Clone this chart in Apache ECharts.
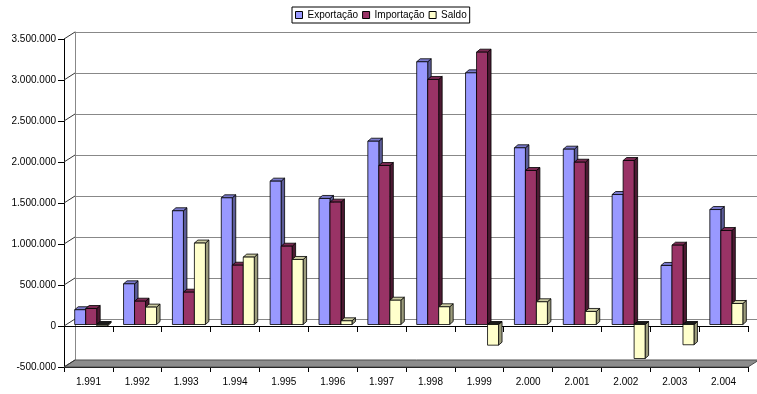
<!DOCTYPE html>
<html>
<head>
<meta charset="utf-8">
<script src="https://cdn.jsdelivr.net/npm/echarts@6/dist/echarts.min.js"></script>
<style>
  html, body { margin: 0; padding: 0; background: #fff; }
  #chart { width: 757px; height: 394px; }
</style>
</head>
<body>
<div id="chart"></div>
<script>
// Balança comercial 1991-2004
const categorias = ['1.991', '1.992', '1.993', '1.994', '1.995', '1.996', '1.997',
                    '1.998', '1.999', '2.000', '2.001', '2.002', '2.003', '2.004'];
const exportacao = [180000, 496000, 1387000, 1545000, 1748000, 1537000, 2235000,
                    3204000, 3069000, 2155000, 2138000, 1585000, 720000, 1402000];
const importacao = [195000, 284000, 394000, 723000, 955000, 1492000, 1939000,
                    2988000, 3321000, 1878000, 1979000, 2000000, 967000, 1146000];
const saldo = [-15000, 212000, 993000, 822000, 793000, 45000, 296000,
               216000, -252000, 277000, 159000, -415000, -247000, 256000];
const ticksY = [-500000, 0, 500000, 1000000, 1500000, 2000000, 2500000, 3000000, 3500000];

const FONT = "'Liberation Sans', Arial, sans-serif";
// pseudo-3D projection: back wall offset and bar depth
const WALL_DX = 11, WALL_DY = -7;
const BAR_DX = 3.5, BAR_DY = -3;
const BAR_SHIFT_Y = -1.5;

function fmt(v) {
  const s = String(Math.abs(v)).replace(/\B(?=(\d{3})+(?!\d))/g, '.');
  return (v < 0 ? '-' : '') + s;
}

function barRenderer(slot, front, side, top) {
  return function (params, api) {
    const idx = api.value(0), v = api.value(1);
    const base = api.coord([idx, 0]);
    const end = api.coord([idx, v]);
    const band = api.size([1, 0])[0];
    const w = band * 0.225;
    const x = base[0] - band / 2 + band * 0.219 + slot * w;
    const y0 = base[1] + BAR_SHIFT_Y, y1 = end[1] + BAR_SHIFT_Y;
    const yT = Math.min(y0, y1), yB = Math.max(y0, y1);
    const line = { stroke: '#000', lineWidth: 0.8, lineJoin: 'round' };
    return {
      type: 'group',
      children: [
        { type: 'polygon', shape: { points: [[x + w, yT], [x + w + BAR_DX, yT + BAR_DY], [x + w + BAR_DX, yB + BAR_DY], [x + w, yB]] },
          style: Object.assign({ fill: side }, line) },
        { type: 'polygon', shape: { points: [[x, yT], [x + BAR_DX, yT + BAR_DY], [x + w + BAR_DX, yT + BAR_DY], [x + w, yT]] },
          style: Object.assign({ fill: v < 0 ? '#1a1a1a' : top }, line) },
        { type: 'rect', shape: { x: x, y: yT, width: w, height: Math.max(yB - yT, 0.5) },
          style: Object.assign({ fill: front }, line) }
      ]
    };
  };
}

// side wall lines from the front value axis back to the wall
function sideWallRender(params, api) {
  const p = api.coord([0, api.value(0)]);
  const band = api.size([1, 0])[0];
  const x0 = p[0] - band / 2;
  return { type: 'line', shape: { x1: x0, y1: p[1], x2: x0 + WALL_DX, y2: p[1] + WALL_DY },
           style: { stroke: '#333', lineWidth: 1 } };
}

// floor at the minimum of the value axis
function floorRender(params, api) {
  const n = categorias.length;
  const band = api.size([1, 0])[0];
  const l = api.coord([0, ticksY[0]]);
  const r = api.coord([n - 1, ticksY[0]]);
  const xl = l[0] - band / 2, xr = r[0] + band / 2, y = l[1];
  return { type: 'polygon',
           shape: { points: [[xl, y], [xr, y], [xr + WALL_DX, y + WALL_DY], [xl + WALL_DX, y + WALL_DY]] },
           style: { fill: '#8c8c8c', stroke: '#4d4d4d', lineWidth: 1 } };
}

const chart = echarts.init(document.getElementById('chart'), null, { renderer: 'canvas' });
chart.setOption({
  animation: false,
  backgroundColor: '#fff',
  textStyle: { fontFamily: FONT },
  legend: {
    data: ['Exportação', 'Importação', 'Saldo'],
    left: 292, top: 7,
    itemWidth: 7, itemHeight: 7, itemGap: 4,
    padding: [3, 3, 3, 3],
    borderColor: '#000', borderWidth: 1,
    icon: 'rect',
    itemStyle: { borderColor: '#000', borderWidth: 1 },
    textStyle: { fontSize: 10, color: '#000', fontFamily: FONT }
  },
  grid: [
    { left: 64, right: 9, top: 39, bottom: 27 },
    { left: 75, right: -2, top: 32, bottom: 34 }
  ],
  xAxis: [
    { type: 'category', gridIndex: 0, data: categorias, position: 'bottom',
      axisLine: { onZero: false, lineStyle: { color: '#000', width: 1 } },
      axisTick: { show: true, length: 5, lineStyle: { color: '#000' } },
      axisLabel: { fontSize: 10, color: '#000', margin: 10, fontFamily: FONT },
      splitLine: { show: false } },
    { type: 'category', gridIndex: 0, data: categorias, position: 'bottom',
      axisLine: { onZero: true, lineStyle: { color: '#000', width: 1 } },
      axisTick: { show: true, length: 6, lineStyle: { color: '#000' } },
      axisLabel: { show: false },
      splitLine: { show: false } },
    { type: 'category', gridIndex: 1, data: categorias, show: false }
  ],
  yAxis: [
    { type: 'value', gridIndex: 0, min: -500000, max: 3500000, interval: 500000,
      axisLine: { show: true, lineStyle: { color: '#000', width: 1 } },
      axisTick: { show: true, length: 6, lineStyle: { color: '#000' } },
      axisLabel: { fontSize: 10, color: '#000', margin: 8, formatter: fmt, fontFamily: FONT },
      splitLine: { show: false } },
    { type: 'value', gridIndex: 1, min: -500000, max: 3500000, interval: 500000,
      axisLine: { show: true, lineStyle: { color: '#888', width: 1 } },
      axisTick: { show: false },
      axisLabel: { show: false },
      splitLine: { show: true, lineStyle: { color: '#888', width: 1 } } }
  ],
  series: [
    { type: 'custom', name: 'floor', xAxisIndex: 0, yAxisIndex: 0, z: 1, silent: true,
      renderItem: floorRender, data: [[0]], legendHoverLink: false },
    { type: 'custom', name: 'wall', xAxisIndex: 0, yAxisIndex: 0, z: 1, silent: true,
      renderItem: sideWallRender, data: ticksY.map(v => [v]), encode: { y: 0 } },
    { type: 'custom', name: 'Exportação', xAxisIndex: 0, yAxisIndex: 0, z: 3,
      itemStyle: { color: '#9999FF' },
      renderItem: barRenderer(0, '#9999FF', '#5c5c99', '#7a7acc'),
      data: exportacao.map((v, i) => [i, v]), encode: { x: 0, y: 1 } },
    { type: 'custom', name: 'Importação', xAxisIndex: 0, yAxisIndex: 0, z: 4,
      itemStyle: { color: '#993366' },
      renderItem: barRenderer(1, '#993366', '#4d1a33', '#7a2952'),
      data: importacao.map((v, i) => [i, v]), encode: { x: 0, y: 1 } },
    { type: 'custom', name: 'Saldo', xAxisIndex: 0, yAxisIndex: 0, z: 5,
      itemStyle: { color: '#FFFFCC' },
      renderItem: barRenderer(2, '#FFFFCC', '#9c9c7c', '#cccca3'),
      data: saldo.map((v, i) => [i, v]), encode: { x: 0, y: 1 } }
  ]
});
</script>
</body>
</html>
